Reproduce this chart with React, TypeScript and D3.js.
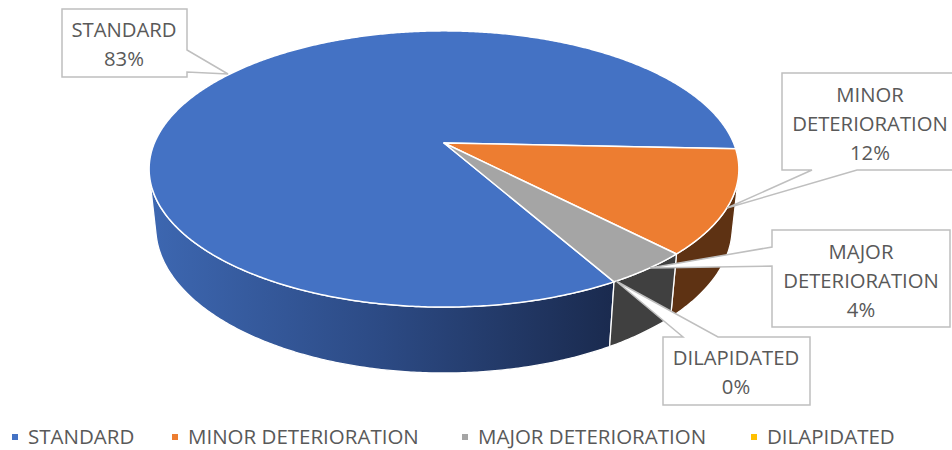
import React from "react";
import * as d3 from "d3";

const categories = ["STANDARD", "MINOR DETERIORATION", "MAJOR DETERIORATION", "DILAPIDATED"];
const values = [83, 12, 4, 0];
const percentLabels = ["83%", "12%", "4%", "0%"];
const calloutLines = [["STANDARD"], ["MINOR", "DETERIORATION"], ["MAJOR", "DETERIORATION"], ["DILAPIDATED"]];

const topColors = ["#4472C4", "#ED7D31", "#A5A5A5", "#FFC000"];
const wallColors = ["url(#blueWall)", "#5E3213", "#404040", "#7F6000"];

const W = 952;
const H = 450;

// perspective parameters
const CX = 444;
const CY = 143;
const DIST = 4.72;
const TILT = Math.asin(0.46);
const COS = Math.cos(TILT);
const SIN = Math.sin(TILT);
const FOCAL = 1367;
const DEPTH = 0.228;

function project(x: number, y: number, z: number): [number, number] {
  const denom = DIST - z * COS - y * SIN;
  return [CX + (FOCAL * x) / denom, CY + (FOCAL * (z * SIN - y * COS)) / denom];
}

const deg = Math.PI / 180;
const START = 150.6 * deg;

function arcPts(t0: number, t1: number, y: number): [number, number][] {
  const n = Math.max(2, Math.ceil(Math.abs(t1 - t0) / (0.5 * deg)));
  return d3.range(n + 1).map((i) => {
    const t = t0 + ((t1 - t0) * i) / n;
    return project(Math.cos(t), y, Math.sin(t));
  });
}

const callouts = [
  { path: "M62,9 H187 V50 L228,74 L187,72 V77 H62 Z", cx: 124, base: [37, 66] },
  { path: "M782,73 H958 V170 H857 L727,208 L812,170 H782 Z", cx: 870, base: [102, 131, 160] },
  { path: "M772,230 H950 V327 H772 V266 L650,268 L772,247 Z", cx: 861, base: [259, 288, 317] },
  { path: "M663,337 H683 L616,281 L718,337 H810 V405 H663 Z", cx: 736, base: [365, 394] },
];

const legendX = [12, 172, 462, 751];

export default function App() {
  const pie = d3
    .pie<number>()
    .sort(null)
    .startAngle(START)
    .endAngle(START + 2 * Math.PI)(values);

  const visA = Math.asin(1 / (DIST * COS));
  const visB = Math.PI - visA;
  const line = d3.line();
  const apex = project(0, 0, 0);

  const walls: { d: string; i: number }[] = [];
  const tops: { d: string; i: number }[] = [];
  pie.forEach((p, i) => {
    if (p.endAngle - p.startAngle <= 0) return;
    const t0 = p.startAngle - Math.PI / 2;
    const t1 = p.endAngle - Math.PI / 2;
    tops.push({ d: (line([apex, ...arcPts(t0, t1, 0)]) || "") + "Z", i });
    for (let k = -1; k <= 2; k++) {
      const a = Math.max(t0, visA + k * 2 * Math.PI);
      const b = Math.min(t1, visB + k * 2 * Math.PI);
      if (b > a) {
        const topArc = arcPts(a, b, 0);
        const botArc = arcPts(b, a, -DEPTH);
        walls.push({ d: (line([...topArc, ...botArc]) || "") + "Z", i });
      }
    }
  });

  const font = "'Open Sans', sans-serif";

  return (
    <div style={{ position: "absolute", left: 0, top: 0, width: W, height: H, background: "#fff" }}>
      <svg width={W} height={H} style={{ display: "block" }}>
        <defs>
          <linearGradient id="blueWall" gradientUnits="userSpaceOnUse" x1={150} y1={0} x2={615} y2={0}>
            <stop offset="0" stopColor="#3D67B1" />
            <stop offset="0.5" stopColor="#2C4A84" />
            <stop offset="1" stopColor="#1A2A4E" />
          </linearGradient>
        </defs>
        {walls.map((w, j) => (
          <path key={"w" + j} d={w.d} fill={wallColors[w.i]} stroke="#fff" strokeWidth={1.3} strokeLinejoin="round" />
        ))}
        {tops.map((t) => (
          <path key={"t" + t.i} d={t.d} fill={topColors[t.i]} stroke="#fff" strokeWidth={1.5} strokeLinejoin="round" />
        ))}
        {callouts.map((c, i) => {
          const lines = [...calloutLines[i], percentLabels[i]];
          return (
            <g key={"c" + i}>
              <path d={c.path} fill="#fff" stroke="#BFBFBF" strokeWidth={1.5} />
              {lines.map((txt, k) => (
                <text key={k} x={c.cx} y={c.base[k]} textAnchor="middle" fontFamily={font} fontSize={20.3} fill="#595959">
                  {txt}
                </text>
              ))}
            </g>
          );
        })}
        {categories.map((cat, i) => (
          <g key={"l" + i}>
            <rect x={legendX[i]} y={434} width={6} height={6} fill={topColors[i]} />
            <text x={legendX[i] + 16} y={444} fontFamily={font} fontSize={20.5} fill="#595959">
              {cat}
            </text>
          </g>
        ))}
      </svg>
    </div>
  );
}
